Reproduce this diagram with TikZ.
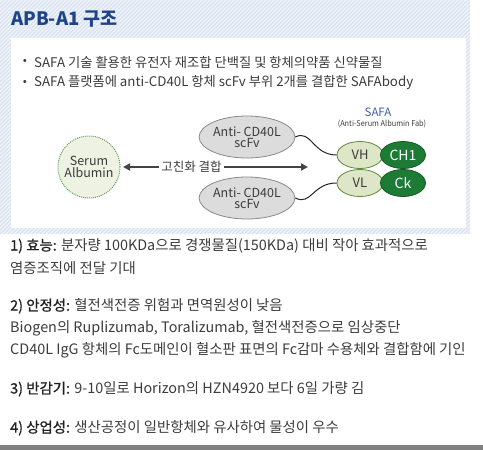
\documentclass[tikz,border=0pt]{standalone}
\usepackage{fontspec}
\setmainfont{Noto Sans CJK KR}
\newfontfamily\labfont{Noto Sans CJK KR}[FakeBold=0.9]
\usetikzlibrary{arrows.meta,shapes.geometric}
\definecolor{titleblue}{HTML}{1E4388}
\definecolor{hatchbg}{HTML}{EFF3FA}
\definecolor{hatchln}{HTML}{D8E0EF}
\definecolor{bodytxt}{HTML}{3C3C3C}
\definecolor{labtxt}{HTML}{202020}
\definecolor{albfill}{HTML}{EEF2E2}
\definecolor{albdraw}{HTML}{5FA35A}
\definecolor{scfill}{HTML}{DCDCDC}
\definecolor{scdraw}{HTML}{8A8A8A}
\definecolor{vfill}{HTML}{DDE6C6}
\definecolor{vdraw}{HTML}{5E8A3A}
\definecolor{cfill}{HTML}{1E7B36}
\definecolor{cdraw}{HTML}{145A26}
\definecolor{safablue}{HTML}{3F5FA8}
\definecolor{arrowgray}{HTML}{444444}
\definecolor{bottomgray}{HTML}{808080}
\tikzset{
  fs/.style={font=\fontsize{#1}{#1}\selectfont},
  bodyline/.style={anchor=west, inner sep=0pt, text=bodytxt, fs=14.4},
  bullettxt/.style={anchor=west, inner sep=0pt, text=bodytxt, fs=13.3},
  scfv/.style={ellipse, draw=scdraw, fill=scfill, line width=0.8pt, minimum width=74pt, minimum height=42pt, inner sep=0pt, align=center, text=bodytxt, fs=12.5},
  vdom/.style={ellipse, draw=vdraw, fill=vfill, line width=0.8pt, minimum width=46pt, minimum height=27pt, inner sep=0pt, text=bodytxt, fs=13},
  cdom/.style={ellipse, draw=cdraw, fill=cfill, line width=0.8pt, minimum width=45pt, minimum height=27pt, inner sep=0pt, text=white, fs=14},
  linker/.style={draw=black!85, line width=1pt},
}
\begin{document}
\begin{tikzpicture}[x=1pt,y=-1pt]
\useasboundingbox (0,0) rectangle (483,450);
% hatched header panel
\fill[hatchbg] (0,0) rectangle (470,234);
\begin{scope}
\clip (0,0) rectangle (470,234);
\foreach \i in {0,4,...,720} \draw[hatchln, line width=1pt] (\i-240,234) -- (\i,0);
\end{scope}
\fill[white] (11,38) rectangle (466,228);
% title
\node[anchor=west, inner sep=0pt, text=titleblue, font=\fontsize{18.5}{18.5}\selectfont\bfseries] (title) at (11,19) {APB-A1 구조};
% bullets
\node[inner sep=0pt, text=bodytxt, fs=12] (bu1) at (25,62) {•};
\node[bullettxt] (bt1) at (34,62) {SAFA 기술 활용한 유전자 재조합 단백질 및 항체의약품 신약물질};
\node[inner sep=0pt, text=bodytxt, fs=12] (bu2) at (25,83) {•};
\node[bullettxt] (bt2) at (34,83) {SAFA 플랫폼에 anti-CD40L 항체 scFv 부위 2개를 결합한 SAFAbody};
% diagram
\node[circle, draw=albdraw, fill=albfill, densely dotted, line width=1pt, minimum size=62pt, inner sep=0pt, align=center, text=bodytxt, fs=12.5] (alb) at (89,167) {Serum\\[-1pt]Albumin};
\node[scfv] (sc1) at (247,137) {Anti- CD40L\\[-1pt]scFv};
\node[scfv] (sc2) at (247,198) {Anti- CD40L\\[-1pt]scFv};
\node[vdom] (vh) at (360,155) {VH};
\node[vdom] (vl) at (360,183) {VL};
\node[cdom] (ch1) at (403,155) {CH1};
\node[cdom] (ck) at (403,183) {Ck};
\node[text=safablue, inner sep=0pt, fs=11.5] (safa) at (378,112) {SAFA};
\node[text=bodytxt, inner sep=0pt, font=\fontsize{8}{8}\selectfont, xscale=0.92] (safasub) at (382,124) {(Anti-Serum Albumin Fab)};
% arrow
\coordinate (al) at (123,167);
\coordinate (ar) at (308,167);
\draw[arrowgray, line width=1.8pt, {Triangle[length=7pt,width=7pt]}-{Triangle[length=7pt,width=7pt]}] (al) -- node[pos=0.37, fill=white, inner sep=2pt, text=bodytxt, fs=12.5] (bind) {고친화 결합} (ar);
% linkers
\draw[linker] (sc1.east) .. controls +(16,-8) and +(-24,0) .. (vh.west);
\draw[linker] (sc2.east) .. controls +(16,8) and +(-24,0) .. (vl.west);
% body text
\node[bodyline] (l1) at (10,246) {\textcolor{labtxt}{\labfont 1) 효능:} 분자량 100KDa으로 경쟁물질(150KDa) 대비 작아 효과적으로};
\node[bodyline] (l2) at (10,268) {염증조직에 전달 기대};
\node[bodyline] (l3) at (10,306) {\textcolor{labtxt}{\labfont 2) 안정성:} 혈전색전증 위험과 면역원성이 낮음};
\node[bodyline] (l4) at (10,328) {Biogen의 Ruplizumab, Toralizumab, 혈전색전증으로 임상중단};
\node[bodyline] (l5) at (10,350) {CD40L IgG 항체의 Fc도메인이 혈소판 표면의 Fc감마 수용체와 결합함에 기인};
\node[bodyline] (l6) at (10,389) {\textcolor{labtxt}{\labfont 3) 반감기:} 9-10일로 Horizon의 HZN4920 보다 6일 가량 김};
\node[bodyline] (l7) at (10,428) {\textcolor{labtxt}{\labfont 4) 상업성:} 생산공정이 일반항체와 유사하여 물성이 우수};
% bottom rule
\fill[bottomgray] (0,445) rectangle (483,450);
\end{tikzpicture}
\end{document}
